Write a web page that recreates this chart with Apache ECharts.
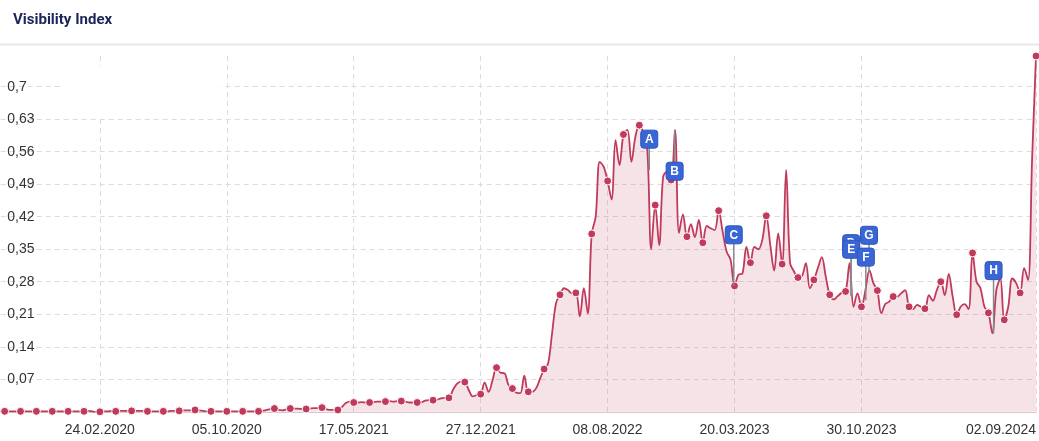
<!DOCTYPE html>
<html><head><meta charset="utf-8">
<script src="https://cdn.jsdelivr.net/npm/echarts@6/dist/echarts.min.js"></script>
<style>html,body{margin:0;padding:0;background:#fff}#c{width:1039px;height:441px}</style>
</head><body><div id="c"></div>
<script>
// Weekly visibility index, first week = 02.09.2019
const firstWeek = [2019, 8, 2];
const visPart1 = [0.001,0.001,0.001,0.001,0.001,0.001,0.001,0.001,0.001,0.001,
  0.001,0.001,0.001,0.001,0.001,0.001,0.001,0.001,0.001,0.001,
  0.001,0.001,0.002,0.001,0.000,0.000,0.001,0.001,0.002,0.001,
  0.002,0.002,0.002,0.002,0.002,0.002,0.002,0.001,0.001,0.001,
  0.001,0.001,0.001,0.002,0.002,0.002,0.003,0.003,0.003,0.004,
  0.003,0.002];
const visPart2 = [0.001,0.001,0.001,0.001,0.001,0.001,0.001,0.001,0.001,0.001,
  0.001,0.001,0.001,0.001,0.002,0.004,0.006,0.007,0.004,0.003,
  0.005,0.007,0.007,0.007,0.006,0.006,0.007,0.008,0.008,0.009,
  0.006,0.004,0.004,0.004,0.010,0.019,0.022,0.020,0.020,0.021,
  0.020,0.020,0.021,0.022,0.022,0.022,0.023,0.022,0.023,0.023,
  0.022,0.020];
const visPart3 = [0.020,0.020,0.020,0.024,0.025,0.025,0.026,0.029,0.030,0.030,
  0.047,0.060,0.065,0.064,0.047,0.033,0.036,0.038,0.063,0.043,
  0.068,0.095,0.084,0.083,0.058,0.050,0.041,0.040,0.078,0.043,
  0.043,0.051,0.072,0.092,0.104,0.169,0.234,0.252,0.266,0.262,
  0.255,0.256,0.205,0.266,0.212,0.383,0.420,0.538,0.528,0.497,
  0.457,0.585];
const visPart4 = [0.531,0.597,0.607,0.538,0.592,0.617,0.600,0.565,0.350,0.445,
  0.359,0.506,0.517,0.499,0.607,0.385,0.425,0.377,0.404,0.376,
  0.413,0.364,0.400,0.395,0.391,0.433,0.388,0.345,0.327,0.271,
  0.295,0.298,0.355,0.321,0.355,0.350,0.370,0.422,0.360,0.304,
  0.384,0.318,0.521,0.320,0.302,0.289,0.292,0.320,0.266,0.284,
  0.309,0.333];
const visPart5 = [0.291,0.252,0.242,0.249,0.256,0.259,0.320,0.226,0.255,0.226,
  0.262,0.305,0.277,0.261,0.212,0.232,0.237,0.248,0.248,0.255,
  0.262,0.226,0.221,0.230,0.226,0.222,0.251,0.239,0.262,0.280,
  0.251,0.297,0.248,0.209,0.226,0.232,0.221,0.342,0.280,0.266,
  0.226,0.213,0.169,0.262,0.287,0.198,0.226,0.287,0.277,0.256,
  0.309,0.284,0.540,0.766];
const tickLabels = ['24.02.2020','05.10.2020','17.05.2021','27.12.2021','08.08.2022','20.03.2023','30.10.2023','02.09.2024'];
const yMax = 0.766;
const yStep = 0.07;
// Event flags: week position, value of anchor on line, value of flag box
const flagLetters = ['A','B','C','D','E','F','G','H'];
const flagWeeks = [163.5, 169.9, 184.8, 214.4, 214.4, 218.1, 218.9, 250.3];
const flagPointValues = [0.52, 0.607, 0.271, 0.25, 0.25, 0.24, 0.30, 0.169];
const flagBoxValues = [0.587, 0.518, 0.381, 0.362, 0.350, 0.333, 0.380, 0.304];

const visibility = [].concat(visPart1, visPart2, visPart3, visPart4, visPart5);
const pad = n => (n < 10 ? '0' : '') + n;
const weeks = visibility.map((v, i) => {
  const d = new Date(Date.UTC(firstWeek[0], firstWeek[1], firstWeek[2]) + i * 7 * 864e5);
  return pad(d.getUTCDate()) + '.' + pad(d.getUTCMonth() + 1) + '.' + d.getUTCFullYear();
});
const isTick = (idx, val) => tickLabels.indexOf(weeks[idx]) >= 0;

const lineColor = '#c03a5b';
const gridColor = '#dcdcdc';
const chart = echarts.init(document.getElementById('c'), null, {renderer: 'canvas'});
chart.setOption({
  animation: false,
  grid: {left: 0.7, right: 1.5, top: 56, bottom: 29.2, containLabel: false},
  graphic: [
    {type: 'text', left: 13, top: 13, z: 10,
     style: {text: 'Visibility Index', font: 'bold 15px Roboto', fill: '#1c2557'}},
    {type: 'line', z: 10, shape: {x1: 0, y1: 44.5, x2: 1039, y2: 44.5},
     style: {stroke: '#e8e8e8', lineWidth: 2}},
    {type: 'rect', z: 3, shape: {x: 62, y: 66, width: 159, height: 53},
     style: {fill: '#ffffff'}}
  ],
  xAxis: [{
    type: 'category', data: weeks, boundaryGap: false,
    axisLine: {show: true, lineStyle: {color: '#d9c9ce', width: 1}},
    axisTick: {show: false},
    axisLabel: {interval: isTick, color: '#333', fontSize: 14, fontFamily: 'Liberation Sans, Arial',
      margin: 11, alignMaxLabel: 'right'},
    splitLine: {show: true, interval: isTick, lineStyle: {color: gridColor, type: [5, 4], width: 1}}
  }, {
    type: 'value', min: 0, max: visibility.length - 1, show: false
  }],
  yAxis: {
    type: 'value', min: 0, max: yMax, interval: yStep,
    axisLine: {show: false}, axisTick: {show: false},
    axisLabel: {inside: true, margin: 6.5, color: '#333', fontSize: 14, fontFamily: 'Liberation Sans, Arial',
      showMinLabel: false, showMaxLabel: false,
      formatter: v => String(parseFloat(v.toFixed(2))).replace('.', ',')},
    splitLine: {show: true, showMinLine: false, showMaxLine: false,
      lineStyle: {color: gridColor, type: [5, 4], width: 1}}
  },
  series: [{
    type: 'line', data: visibility, smooth: 0.35, showAllSymbol: true, symbol: 'circle',
    symbolSize: (v, p) => (p.dataIndex % 4 === 1 ? 8 : 0),
    lineStyle: {color: lineColor, width: 1.8},
    itemStyle: {color: lineColor, borderColor: '#fff', borderWidth: 1},
    areaStyle: {color: 'rgba(192,58,91,0.2)'},
    emphasis: {disabled: true}, z: 2
  }, {
    type: 'custom', xAxisIndex: 1, yAxisIndex: 0, z: 5,
    data: flagWeeks.map((w, i) => [w, flagPointValues[i], flagBoxValues[i]]),
    renderItem: (params, api) => {
      const i = params.dataIndex;
      const x = api.value(0);
      const p = api.coord([x, api.value(1)]);
      const b = api.coord([x, api.value(2)]);
      return {type: 'group', children: [
        {type: 'line', z2: 1, shape: {x1: p[0], y1: p[1], x2: b[0], y2: b[1]},
         style: {stroke: '#8a8a8a', lineWidth: 1.5}},
        {type: 'rect', z2: 10 + 2 * i, shape: {x: b[0] - 8.5, y: b[1] - 9, width: 17, height: 18, r: 3},
         style: {fill: '#3a66d5', stroke: '#2d55bf', lineWidth: 1}},
        {type: 'text', z2: 11 + 2 * i,
         style: {text: flagLetters[i], x: b[0], y: b[1] + 0.5, align: 'center', verticalAlign: 'middle',
           fill: '#fff', font: 'bold 12px Arial'}}
      ]};
    }
  }]
});
</script></body></html>
